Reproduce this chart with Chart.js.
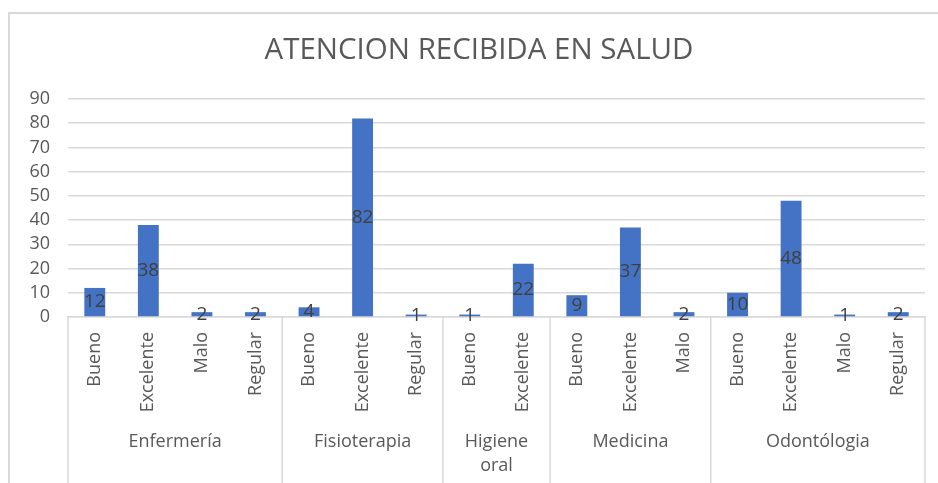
<!DOCTYPE html>
<html>
<head>
<meta charset="utf-8">
<script src="https://cdn.jsdelivr.net/npm/chart.js@4/dist/chart.umd.min.js"></script>
<style>
  html, body { margin: 0; padding: 0; background: #fff; }
  #wrap { width: 938px; height: 483px; position: relative; }
</style>
</head>
<body>
<div id="wrap"><canvas id="chart"></canvas></div>
<script>
// datos
const categories = ['Bueno', 'Excelente', 'Malo', 'Regular',
                    'Bueno', 'Excelente', 'Regular',
                    'Bueno', 'Excelente',
                    'Bueno', 'Excelente', 'Malo',
                    'Bueno', 'Excelente', 'Malo', 'Regular'];
const values = [12, 38, 2, 2, 4, 82, 1, 1, 22, 9, 37, 2, 10, 48, 1, 2];
const groupNames = [['Enfermería'], ['Fisioterapia'], ['Higiene', 'oral'], ['Medicina'], ['Odontólogia']];
const groupSizes = [4, 3, 2, 3, 4];
const yTicks = [0, 10, 20, 30, 40, 50, 60, 70, 80, 90];
const title = 'ATENCION RECIBIDA EN SALUD';

const FONT = "'Open Sans', sans-serif";
const GRAY = '#d9d9d9';

// marco exterior y titulo
const frame = {
    id: 'frame',
    beforeDraw(chart) {
        const ctx = chart.ctx;
        ctx.save();
        ctx.strokeStyle = GRAY;
        ctx.lineWidth = 2;
        ctx.beginPath();
        ctx.moveTo(9, chart.height + 5);
        ctx.lineTo(9, 13);
        ctx.lineTo(chart.width + 5, 13);
        ctx.stroke();
        ctx.fillStyle = '#595959';
        ctx.font = '29.5px ' + FONT;
        ctx.textAlign = 'center';
        ctx.textBaseline = 'middle';
        ctx.fillText(title, 479, 51);
        ctx.restore();
    }
};

// etiquetas de valor en el centro de cada barra
const barLabels = {
    id: 'barLabels',
    afterDatasetsDraw(chart) {
        const ctx = chart.ctx;
        const meta = chart.getDatasetMeta(0);
        ctx.save();
        ctx.fillStyle = '#404040';
        ctx.font = '19px ' + FONT;
        ctx.textAlign = 'center';
        ctx.textBaseline = 'middle';
        meta.data.forEach((bar, i) => {
            ctx.fillText(String(values[i]), bar.x, (bar.y + bar.base) / 2);
        });
        ctx.restore();
    }
};

// eje de categorias en dos niveles
const groupAxis = {
    id: 'groupAxis',
    afterDraw(chart) {
        const ctx = chart.ctx;
        const x = chart.scales.x;
        const area = chart.chartArea;
        const slot = x.getPixelForValue(1) - x.getPixelForValue(0);
        ctx.save();
        ctx.strokeStyle = GRAY;
        ctx.lineWidth = 1.5;
        ctx.fillStyle = '#595959';
        ctx.font = '18px ' + FONT;
        ctx.textAlign = 'center';
        ctx.textBaseline = 'middle';
        let start = 0;
        const edges = [area.left];
        groupSizes.forEach((n, g) => {
            const left = x.getPixelForValue(start) - slot / 2;
            const right = x.getPixelForValue(start + n - 1) + slot / 2;
            edges.push(right);
            groupNames[g].forEach((t, k) => {
                ctx.fillText(t, (left + right) / 2, 442 + k * 24);
            });
            start += n;
        });
        edges.forEach(ex => {
            ctx.beginPath();
            ctx.moveTo(ex, area.bottom);
            ctx.lineTo(ex, chart.height);
            ctx.stroke();
        });
        ctx.restore();
    }
};

new Chart(document.getElementById('chart'), {
    type: 'bar',
    data: {
        labels: categories,
        datasets: [{
            data: values,
            backgroundColor: '#4472c4',
            categoryPercentage: 1,
            barPercentage: 0.39
        }]
    },
    options: {
        responsive: true,
        maintainAspectRatio: false,
        animation: false,
        layout: { padding: { left: 0, right: 13, top: 99, bottom: 0 } },
        plugins: {
            legend: { display: false },
            tooltip: { enabled: false },
            title: { display: false }
        },
        scales: {
            x: {
                grid: { display: false, drawTicks: false },
                border: { display: true, color: GRAY, width: 1.5 },
                ticks: {
                    color: '#595959',
                    font: { family: FONT, size: 18 },
                    minRotation: 90,
                    maxRotation: 90,
                    autoSkip: false,
                    padding: 15
                },
                afterFit: s => { s.height = 166; }
            },
            y: {
                min: 0,
                max: 90,
                afterBuildTicks: s => { s.ticks = yTicks.map(v => ({ value: v })); },
                grid: { color: GRAY, lineWidth: 1.5, drawTicks: false },
                border: { display: false },
                ticks: {
                    color: '#595959',
                    font: { family: FONT, size: 18 },
                    autoSkip: false,
                    padding: 18
                },
                afterFit: s => { s.width = 68; }
            }
        }
    },
    plugins: [frame, barLabels, groupAxis]
});
</script>
</body>
</html>
